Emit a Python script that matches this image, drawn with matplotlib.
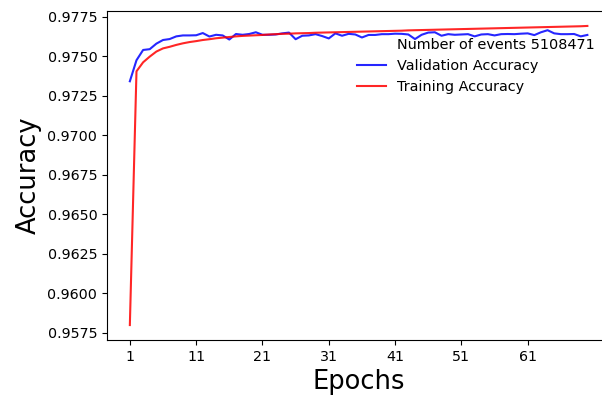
import matplotlib
matplotlib.use("Agg")
import matplotlib.pyplot as plt

# per-epoch accuracy history
epochs = list(range(1, 71))

val_acc = [
    0.97342, 0.97475, 0.97540, 0.97545, 0.97580, 0.97603, 0.97609, 0.97626, 0.97632, 0.97632,
    0.97633, 0.97647, 0.97625, 0.97636, 0.97632, 0.97606, 0.97641, 0.97636, 0.97641, 0.97652,
    0.97636, 0.97636, 0.97638, 0.97645, 0.97650, 0.97608, 0.97630, 0.97632, 0.97640, 0.97628,
    0.97613, 0.97645, 0.97630, 0.97642, 0.97638, 0.97619, 0.97635, 0.97635, 0.97640, 0.97640,
    0.97643, 0.97642, 0.97638, 0.97609, 0.97636, 0.97650, 0.97652, 0.97630, 0.97640, 0.97636,
    0.97638, 0.97640, 0.97626, 0.97638, 0.97640, 0.97632, 0.97640, 0.97641, 0.97640, 0.97643,
    0.97645, 0.97634, 0.97652, 0.97665, 0.97645, 0.97640, 0.97640, 0.97641, 0.97626, 0.97635,
]

train_acc = [
    0.95800, 0.97405, 0.97462, 0.97498, 0.97530, 0.97550, 0.97560, 0.97572, 0.97582, 0.97590,
    0.97596, 0.97603, 0.97608, 0.97614, 0.97618, 0.97622, 0.97626, 0.97629, 0.97631, 0.97633,
    0.97635, 0.97638, 0.97640, 0.97642, 0.97643, 0.97645, 0.97646, 0.97647, 0.97649, 0.97650,
    0.97651, 0.97652, 0.97653, 0.97654, 0.97655, 0.97656, 0.97657, 0.97658, 0.97659, 0.97660,
    0.97661, 0.97662, 0.97664, 0.97665, 0.97666, 0.97667, 0.97668, 0.97669, 0.97670, 0.97671,
    0.97672, 0.97673, 0.97674, 0.97675, 0.97676, 0.97677, 0.97678, 0.97679, 0.97680, 0.97681,
    0.97682, 0.97683, 0.97684, 0.97685, 0.97686, 0.97687, 0.97688, 0.97689, 0.97690, 0.97692,
]

n_events = 5108471
xtick_vals = list(range(1, 71, 10))

fig = plt.figure(figsize=(6.02, 3.95), dpi=100)
ax = fig.add_axes([0.1777, 0.1392, 0.836, 0.833])

ax.plot([], [], " ", label=f"Number of events {n_events}")
ax.plot(epochs, val_acc, color="blue", alpha=0.85, lw=1.5, label="Validation Accuracy")
ax.plot(epochs, train_acc, color="red", alpha=0.85, lw=1.5, label="Training Accuracy")

ax.set_xticks(xtick_vals)
ax.tick_params(labelsize=10.3)
ax.set_xlabel("Epochs", fontsize=18.5)
ax.set_ylabel("Accuracy", fontsize=18.5)
ax.ticklabel_format(axis="y", useOffset=False)

ax.legend(loc="upper left", frameon=False, fontsize=10.4,
          bbox_to_anchor=(344 / 602, 1 - 25 / 395),
          bbox_transform=fig.transFigure)

fig.savefig("out.png", dpi=100)
